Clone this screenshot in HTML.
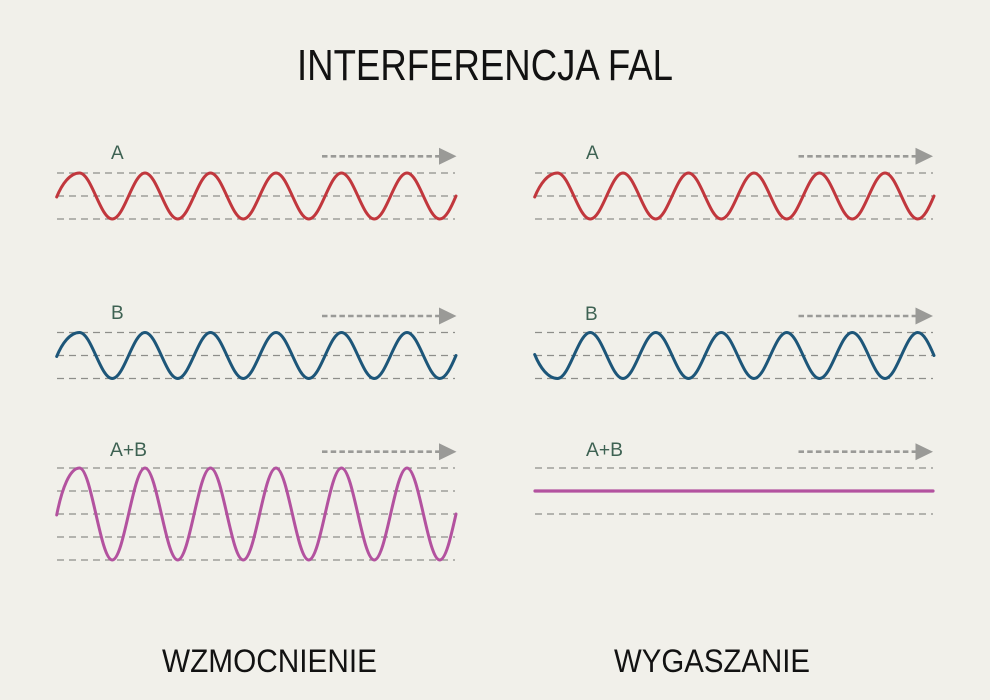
<!DOCTYPE html>
<html>
<head>
<meta charset="utf-8">
<style>
  html, body { margin: 0; padding: 0; background: #f1f0ea; }
  svg { display: block; }
  text { font-family: "Liberation Sans", "DejaVu Sans", sans-serif; }
</style>
</head>
<body>
<svg width="990" height="700" viewBox="0 0 990 700" xmlns="http://www.w3.org/2000/svg">
  <rect x="0" y="0" width="990" height="700" fill="#f1f0ea"/>

  <!-- Title -->
  <text x="297" y="80" font-size="44" fill="#121212" textLength="376" lengthAdjust="spacingAndGlyphs">INTERFERENCJA FAL</text>

  <!-- Bottom labels -->
  <text x="162" y="672" font-size="32" fill="#121212" textLength="215" lengthAdjust="spacingAndGlyphs">WZMOCNIENIE</text>
  <text x="614" y="672" font-size="32" fill="#121212" textLength="196" lengthAdjust="spacingAndGlyphs">WYGASZANIE</text>

  <!-- Grid dashed lines -->
  <g stroke="#8e8e8a" stroke-width="1.3" stroke-dasharray="7 5" fill="none">
    <!-- left A -->
    <line x1="57" y1="173" x2="455" y2="173"/>
    <line x1="57" y1="196" x2="455" y2="196"/>
    <line x1="57" y1="219" x2="455" y2="219"/>
    <!-- left B -->
    <line x1="57" y1="332.5" x2="455" y2="332.5"/>
    <line x1="57" y1="355.5" x2="455" y2="355.5"/>
    <line x1="57" y1="378.5" x2="455" y2="378.5"/>
    <!-- left A+B -->
    <line x1="57" y1="468" x2="455" y2="468"/>
    <line x1="57" y1="491" x2="455" y2="491"/>
    <line x1="57" y1="514" x2="455" y2="514"/>
    <line x1="57" y1="537" x2="455" y2="537"/>
    <line x1="57" y1="560" x2="455" y2="560"/>
    <!-- right A -->
    <line x1="535" y1="173" x2="933" y2="173"/>
    <line x1="535" y1="196" x2="933" y2="196"/>
    <line x1="535" y1="219" x2="933" y2="219"/>
    <!-- right B -->
    <line x1="535" y1="332.5" x2="933" y2="332.5"/>
    <line x1="535" y1="355.5" x2="933" y2="355.5"/>
    <line x1="535" y1="378.5" x2="933" y2="378.5"/>
    <!-- right A+B -->
    <line x1="535" y1="468" x2="933" y2="468"/>
    <line x1="535" y1="514" x2="933" y2="514"/>
  </g>

  <defs>
    <path id="wave23" d="M56.7,1 C62,-12 70,-23 79.5,-23 C91.4,-23 100.35,23 112.25,23 S133.1,-23 145,-23 S165.85,23 177.75,23 S198.6,-23 210.5,-23 S231.35,23 243.25,23 S264.1,-23 276,-23 S296.85,23 308.75,23 S329.6,-23 341.5,-23 S362.35,23 374.25,23 S395.1,-23 407,-23 S427.85,23 439.75,23 C445.7,23 451,11.8 456,0"/>
    <path id="wave46" d="M56.7,1 C62,-26 70,-46 79.5,-46 C91.4,-46 100.35,46 112.25,46 S133.1,-46 145,-46 S165.85,46 177.75,46 S198.6,-46 210.5,-46 S231.35,46 243.25,46 S264.1,-46 276,-46 S296.85,46 308.75,46 S329.6,-46 341.5,-46 S362.35,46 374.25,46 S395.1,-46 407,-46 S427.85,46 439.75,46 C445.7,46 450.7,23.6 456,0"/>
    <g id="arrow">
      <line x1="322" y1="0" x2="440" y2="0" stroke="#9a9a97" stroke-width="2.6" stroke-dasharray="5.5 3.2"/>
      <polygon points="439,-8.5 456.5,0 439,8.5" fill="#9a9a97"/>
    </g>
  </defs>

  <!-- Waves left -->
  <g fill="none" stroke-width="3" stroke-linecap="round" stroke-linejoin="round">
    <use href="#wave23" transform="translate(0,196)" stroke="#c1373d"/>
    <use href="#wave23" transform="translate(0,355.5)" stroke="#1d5679"/>
    <use href="#wave46" transform="translate(0,514)" stroke="#b3529f"/>
    <!-- right -->
    <use href="#wave23" transform="translate(478,196)" stroke="#c1373d"/>
    <use href="#wave23" transform="translate(478,355.5) scale(1,-1)" stroke="#1d5679"/>
    <line x1="535" y1="491" x2="933" y2="491" stroke="#b3529f" stroke-width="3.2"/>
  </g>

  <!-- Arrows -->
  <use href="#arrow" transform="translate(0,156.3)"/>
  <use href="#arrow" transform="translate(0,316)"/>
  <use href="#arrow" transform="translate(0,451.7)"/>
  <use href="#arrow" transform="translate(476.5,156.3)"/>
  <use href="#arrow" transform="translate(476.5,316)"/>
  <use href="#arrow" transform="translate(476.5,451.7)"/>

  <!-- Labels -->
  <g fill="#3e6253" font-size="19">
    <text x="111" y="159">A</text>
    <text x="111" y="319">B</text>
    <text x="110" y="456" textLength="37" lengthAdjust="spacingAndGlyphs">A+B</text>
    <text x="586" y="159">A</text>
    <text x="585" y="320">B</text>
    <text x="586" y="456" textLength="37" lengthAdjust="spacingAndGlyphs">A+B</text>
  </g>
</svg>
</body>
</html>
